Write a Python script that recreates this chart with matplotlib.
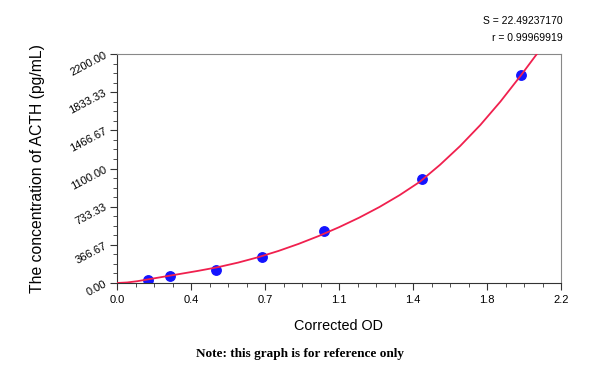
import matplotlib
matplotlib.use('Agg')
import matplotlib.pyplot as plt
from matplotlib.ticker import FixedLocator, AutoMinorLocator

# standards (corrected OD vs ACTH concentration)
od = [0.155, 0.263, 0.490, 0.720, 1.026, 1.513, 2.000]
conc = [31.25, 62.5, 125, 250, 500, 1000, 2000]

# fitted curve
curve_x = [0.0, 0.05, 0.1, 0.2, 0.3, 0.4, 0.5, 0.6, 0.7, 0.8, 0.9, 1.0,
           1.1, 1.2, 1.3, 1.4, 1.5, 1.6, 1.7, 1.8, 1.9, 2.0, 2.08]
curve_y = [0, 5, 17, 50, 83, 116, 152, 196, 248, 308, 376, 452,
           536, 628, 730, 844, 972, 1135, 1316, 1518, 1744, 1992, 2200]

x_ticks = [0, 2.2 / 6, 2 * 2.2 / 6, 3 * 2.2 / 6, 4 * 2.2 / 6, 5 * 2.2 / 6, 2.2]
x_labels = ['0.0', '0.4', '0.7', '1.1', '1.4', '1.8', '2.2']
y_ticks = [0, 2200 / 6, 2 * 2200 / 6, 3 * 2200 / 6, 4 * 2200 / 6, 5 * 2200 / 6, 2200]
y_labels = ['0.00', '366.67', '733.33', '1100.00', '1466.67', '1833.33', '2200.00']

plt.rcParams['font.family'] = ['Liberation Sans', 'DejaVu Sans']

fig = plt.figure(figsize=(6, 3.68), dpi=100)
ax = fig.add_axes([0.195, 0.231, 0.74, 0.622])

ax.plot(od, conc, 'o', color='#1414ff', markersize=6.8, zorder=2)
ax.plot(curve_x, curve_y, color='#f0204e', lw=1.3, zorder=3)

ax.set_xlim(0, 2.2)
ax.set_ylim(0, 2200)
ax.xaxis.set_major_locator(FixedLocator(x_ticks))
ax.yaxis.set_major_locator(FixedLocator(y_ticks))
ax.set_xticklabels(x_labels, fontsize=8)
ax.set_yticklabels(y_labels, fontsize=8, rotation=28, ha='right', va='center',
                   rotation_mode='anchor')
ax.xaxis.set_minor_locator(AutoMinorLocator(4))
ax.yaxis.set_minor_locator(AutoMinorLocator(4))
ax.tick_params(which='major', length=5, width=0.8, color='#333333', pad=4)
ax.tick_params(which='minor', length=3, width=0.6, color='#333333')
ax.tick_params(axis='y', pad=3)

for side in ['top', 'right']:
    ax.spines[side].set_color('#888888')
for side in ['left', 'bottom']:
    ax.spines[side].set_color('#333333')
for s in ax.spines.values():
    s.set_linewidth(0.8)

ax.set_xlabel('Corrected OD', fontsize=10.4, labelpad=10)
ax.set_ylabel('The concentration of ACTH (pg/mL)', fontsize=11.3, labelpad=16.5)

fig.text(0.938, 0.942, 'S = 22.49237170', fontsize=7.5, ha='right', va='center')
fig.text(0.938, 0.898, 'r = 0.99969919', fontsize=7.5, ha='right', va='center')
fig.text(0.5, 0.038, 'Note: this graph is for reference only', fontsize=9.5,
         ha='center', va='center', family=['Liberation Serif'], weight='bold')

fig.savefig('out.png', dpi=100)
